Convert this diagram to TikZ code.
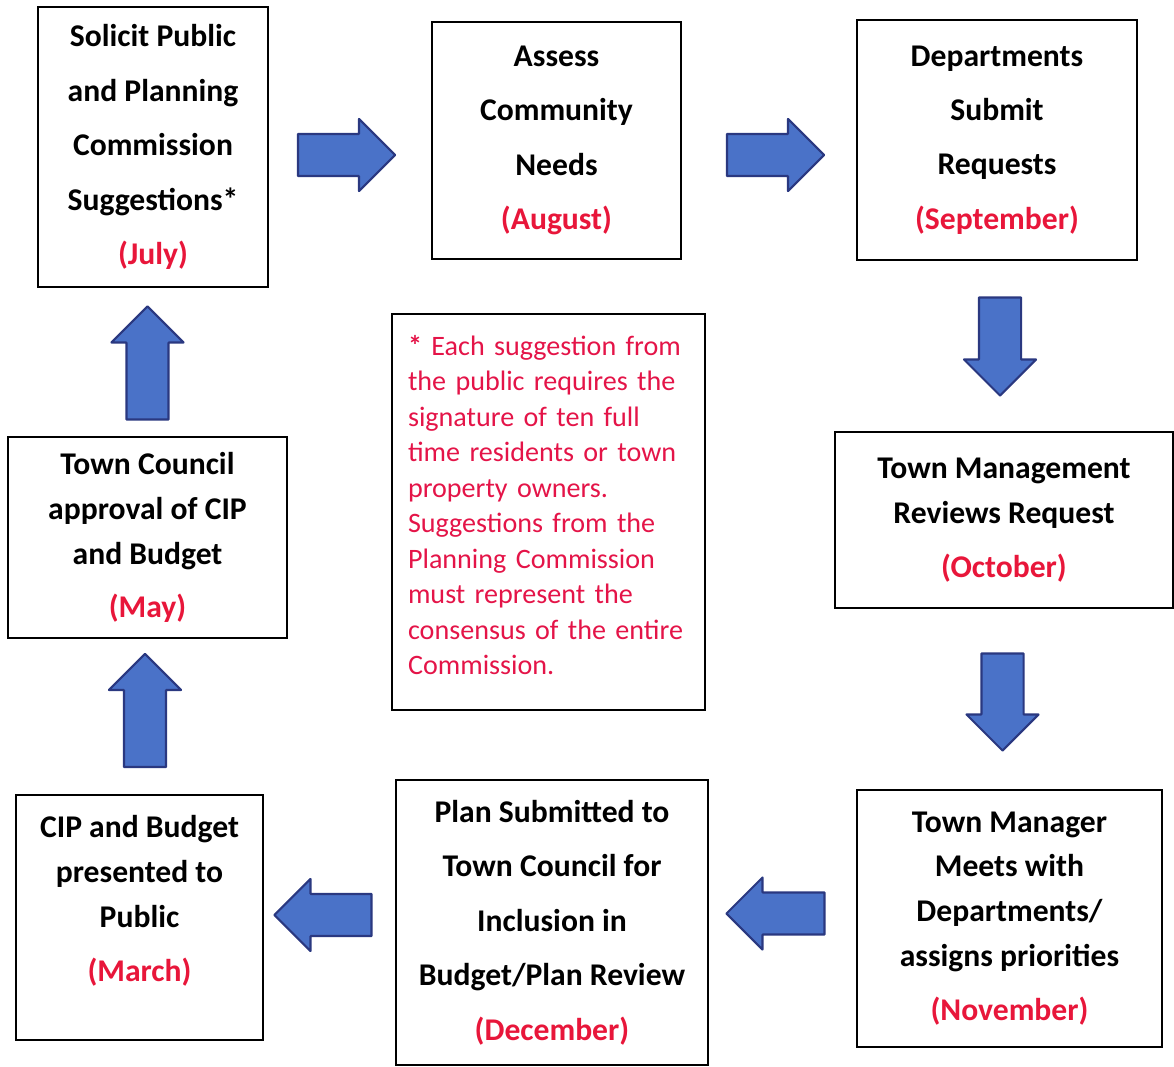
\documentclass[tikz,border=0pt]{standalone}
\usepackage{fontspec}
\setmainfont{Carlito}
\usetikzlibrary{shapes.arrows}
\definecolor{monthred}{RGB}{232,22,58}
\definecolor{notered}{RGB}{228,20,72}
\definecolor{arrowblue}{RGB}{74,114,200}
\definecolor{arrowedge}{RGB}{42,56,128}
\newcommand{\mon}[1]{\textcolor{monthred}{(#1)}}

\begin{document}
\begin{tikzpicture}[x=0.02cm,y=-0.02cm]
  \tikzstyle{stagebox}=[draw,line width=0.8pt,inner sep=0pt,align=center,font=\bfseries\fontsize{18}{31}\selectfont]
  \tikzstyle{tightbox}=[stagebox,font=\bfseries\fontsize{18}{25.6}\selectfont]
  \tikzstyle{notebox}=[draw,line width=0.8pt,inner sep=0pt,text width=5.62cm,align=left,text=notered,font=\fontsize{16}{20.2}\selectfont]
  \tikzstyle{blockarrow}=[single arrow,draw=arrowedge,fill=arrowblue,line width=1.2pt,line join=round,inner sep=0.4cm,single arrow head extend=0.3cm,single arrow tip angle=90,minimum height=1.94cm]

  \useasboundingbox (0,0) rectangle (1174,1067);

  % the yearly steps
  \node[stagebox,minimum width=4.6cm,minimum height=5.6cm]   (solicit) at (153,147)    {Solicit Public\\and Planning\\Commission\\Suggestions*\\\mon{July}};
  \node[stagebox,minimum width=4.98cm,minimum height=4.74cm] (assess)  at (556.5,140.5) {Assess\\Community\\Needs\\\mon{August}};
  \node[stagebox,minimum width=5.6cm,minimum height=4.8cm]   (depts)   at (997,140)    {Departments\\Submit\\Requests\\\mon{September}};
  \node[tightbox,minimum width=6.76cm,minimum height=3.52cm] (review)  at (1004,520)   {Town Management\\Reviews Request\\[5pt]\mon{October}};
  \node[tightbox,minimum width=6.1cm,minimum height=5.14cm]  (meets)   at (1009.5,918.5) {Town Manager\\Meets with\\Departments/\\assigns priorities\\[5pt]\mon{November}};
  \node[stagebox,minimum width=6.24cm,minimum height=5.7cm]  (plan)    at (552,922.5)  {Plan Submitted to\\Town Council for\\Inclusion in\\Budget/Plan Review\\\mon{December}};
  \node[tightbox,minimum width=4.94cm,minimum height=4.9cm]  (public)  at (139.5,917.5) {CIP and Budget\\presented to\\Public\\[5pt]\mon{March}\\[-4pt]\mbox{}};
  \node[tightbox,minimum width=5.58cm,minimum height=4.02cm] (council) at (147.5,537.5) {Town Council\\approval of CIP\\and Budget\\[5pt]\mon{May}};

  \node[notebox,minimum width=6.26cm,minimum height=7.92cm]  (note)    at (548.5,512)  {\textbf{*} Each suggestion from\\the public requires the\\signature of ten full\\time residents or town\\property owners.\\Suggestions from the\\Planning Commission\\must represent the\\consensus of the entire\\Commission.\\[-12pt]\mbox{}};

  % block arrows between the steps
  \node[blockarrow]                                  (a1) at (336,155)     {};
  \node[blockarrow]                                  (a2) at (765,155)     {};
  \node[blockarrow,rotate=-90,minimum height=1.96cm] (a3) at (1000,336)    {};
  \node[blockarrow,rotate=-90,minimum height=1.94cm] (a4) at (1002.5,691.5) {};
  \node[blockarrow,rotate=180,minimum height=1.96cm] (a5) at (786,913.5)   {};
  \node[blockarrow,rotate=180]                       (a6) at (333.5,915)   {};
  \node[blockarrow,rotate=90,minimum height=2.26cm]  (a7) at (145,721)     {};
  \node[blockarrow,rotate=90,minimum height=2.26cm]  (a8) at (147.5,373.5) {};
\end{tikzpicture}
\end{document}
